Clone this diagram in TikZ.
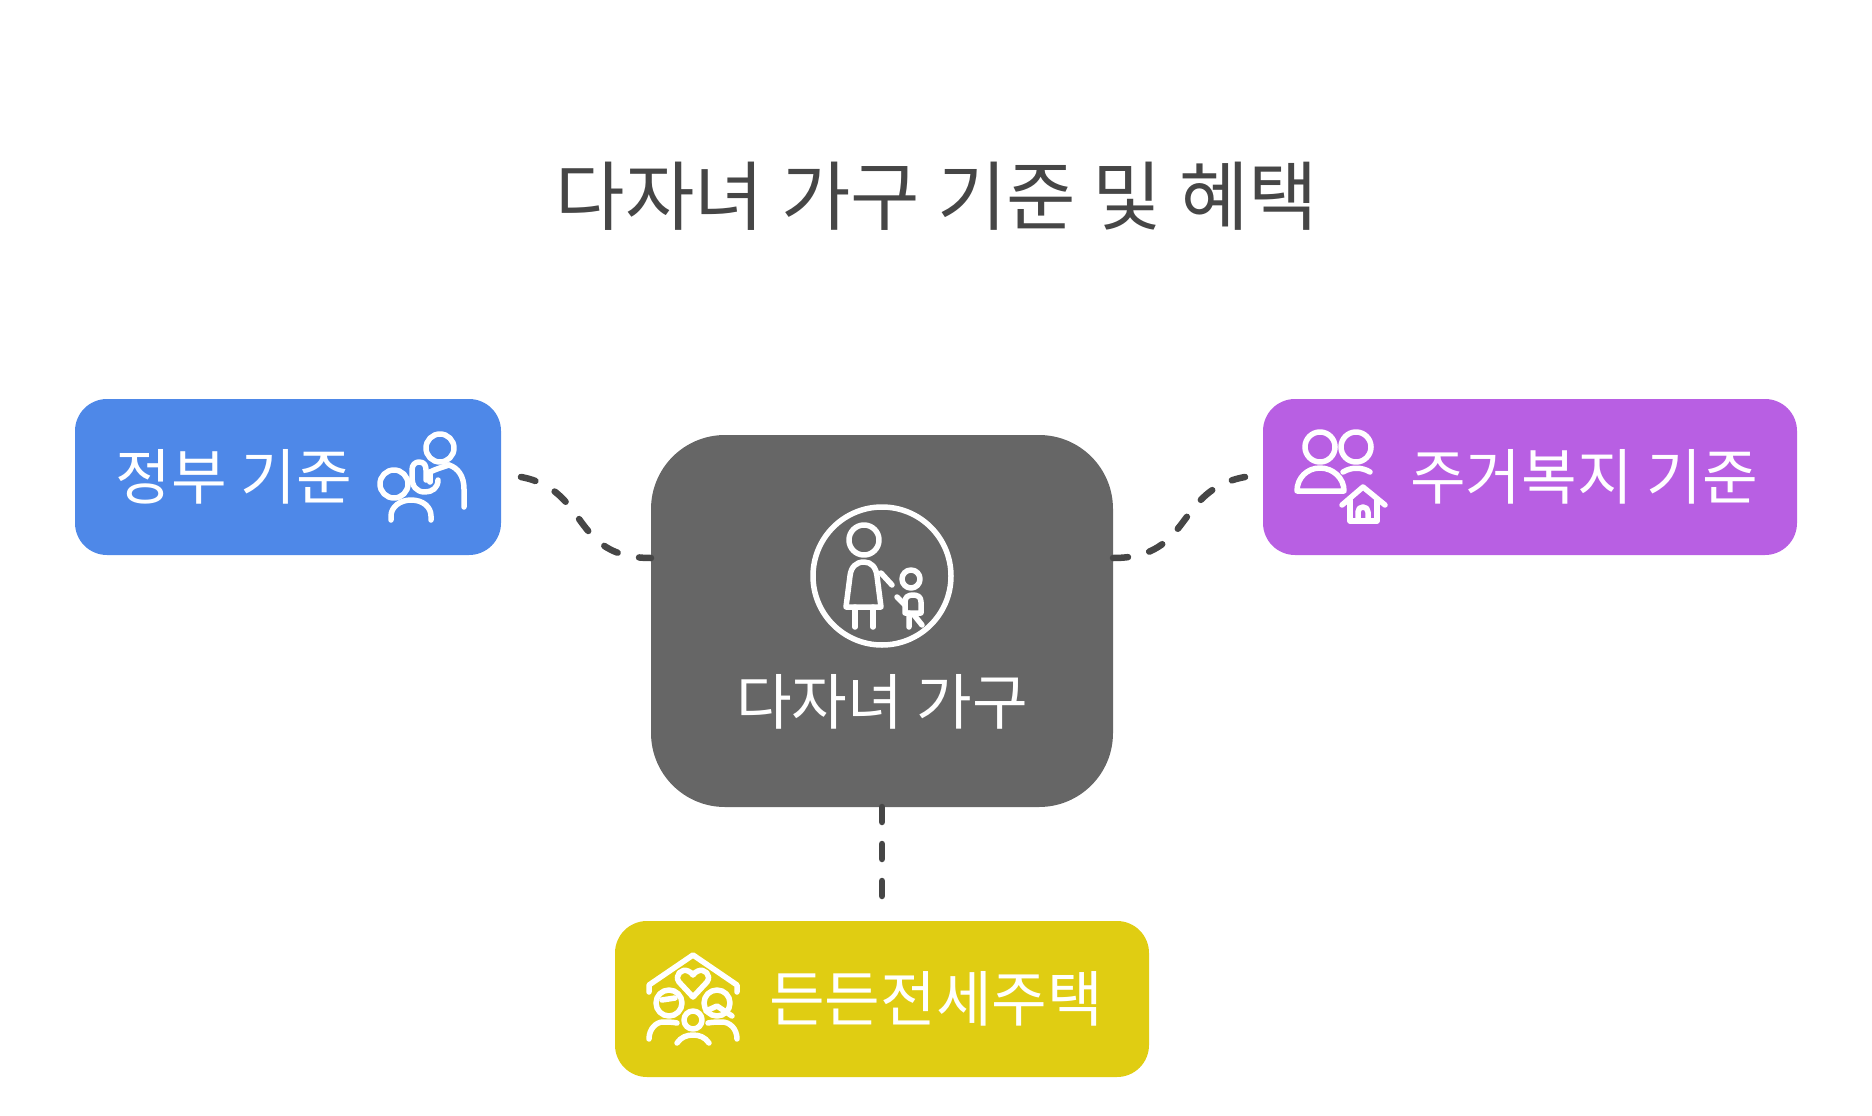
\documentclass[tikz,border=0pt]{standalone}
\usepackage{xcolor}
\usepackage{fontspec}
\usepackage{tikz}
\usetikzlibrary{positioning, calc}
\setmainfont{Noto Sans CJK KR}
\definecolor{myblue}{RGB}{78,136,232}
\definecolor{mygray}{RGB}{102,102,102}
\definecolor{mypurple}{RGB}{184,95,227}
\definecolor{myyellow}{RGB}{224,205,18}
\definecolor{mydark}{RGB}{70,70,70}
\tikzset{
  box/.style={rectangle, inner sep=0pt, outer sep=0pt, rounded corners=32pt,
    minimum width=#1, minimum height=156pt},
  boxtext/.style={text=white, inner sep=0pt, font=\fontsize{60.5}{64}\selectfont},
  titletext/.style={text=mydark, inner sep=0pt, font=\fontsize{75.5}{80}\selectfont},
  link/.style={color=mydark, line width=6.5pt, line cap=round, dash pattern=on 15pt off 22pt},
  icon/.style={draw=white, line width=5.5pt, line cap=round, line join=round}
}
\begin{document}
\begin{tikzpicture}[x=1pt, y=-1pt]
  \useasboundingbox (0,0) rectangle (1872,1116);
  \node[titletext] (title) at (937,196) {다자녀 가구 기준 및 혜택};
  % boxes
  \node[box=462pt, minimum height=372pt, rounded corners=74pt, fill=mygray] (hub) at (882,621) {};
  \node[box=426pt, fill=myblue] (gov) at (288,477) {};
  \node[box=534pt, fill=mypurple] (welfare) at (1530,477) {};
  \node[box=534pt, fill=myyellow] (house) at (882,999) {};
  \node[boxtext] (hubtext) at (882,702) {다자녀 가구};
  \node[boxtext] (govtext) at (234,477) {정부 기준};
  \node[boxtext] (welfaretext) at (1584,477) {주거복지 기준};
  \node[boxtext] (housetext) at (936,999) {든든전세주택};
  % connectors
  \coordinate (hubleft) at ($(hub.west)+(0,-63)$);
  \coordinate (hubright) at ($(hub.east)+(0,-63)$);
  \coordinate (govend) at ($(gov.east)+(20,0)$);
  \coordinate (welfareend) at ($(welfare.west)+(-18,0)$);
  \coordinate (houseend) at ($(house.north)+(0,-21)$);
  \draw[link] (govend) .. controls (590,490) and (570,558) .. (hubleft);
  \draw[link] (hubright) .. controls (1194,558) and (1174,490) .. (welfareend);
  \draw[link] (hub.south) -- (houseend);
  % mother and child
  \draw[icon] (882,576) circle (69);
  \draw[icon] (864,540) circle (15);
  \draw[icon] (846,607) -- (850,576) .. controls (851,567) and (856,562) .. (864,562)
    .. controls (871,562) and (876,567) .. (877,576) -- (881,607) -- cycle;
  \draw[icon] (855,607) -- (855,627) (873,607) -- (873,627);
  \draw[icon] (881,573) -- (892,585);
  \draw[icon] (911,579) circle (9);
  \draw[icon] (905,613) -- (905,602) .. controls (905,597) and (908,595) .. (913,595)
    .. controls (918,595) and (921,597) .. (921,602) -- (921,613) -- cycle;
  \draw[icon] (909,613) -- (909,627) (914,615) -- (922,625);
  \draw[icon] (897,597) -- (905,605);
  % government icon
  \draw[icon] (440,448) circle (14);
  \draw[icon] (449,465) .. controls (458,468) and (464,476) .. (464,489) -- (464,507);
  \draw[icon] (430,472) -- (430,482);
  \draw[icon] (438,480) .. controls (438,488) and (432,492) .. (425,492)
    .. controls (416,492) and (412,486) .. (412,477) -- (412,470)
    .. controls (412,465) and (415,462) .. (419,462)
    .. controls (424,462) and (426,465) .. (426,470) -- (426,480);
  \draw[icon] (430,472) .. controls (436,469) and (443,467) .. (449,465);
  \draw[icon] (394,484) circle (14);
  \draw[icon] (391,520) -- (391,516) .. controls (391,507) and (400,500) .. (411,500)
    .. controls (423,500) and (431,507) .. (431,516) -- (431,520);
  % welfare icon
  \draw[icon] (1320,447) circle (15);
  \draw[icon] (1297,491) .. controls (1297,478) and (1307,468) .. (1320,468)
    .. controls (1333,468) and (1344,478) .. (1344,491) -- cycle;
  \draw[icon] (1356,447) circle (15);
  \draw[icon] (1343,472) .. controls (1351,467) and (1362,467) .. (1370,472);
  \draw[icon] (1342,505) -- (1363,487) -- (1385,505);
  \draw[icon] (1350,500) -- (1350,521) -- (1377,521) -- (1377,500);
  \draw[icon] (1358,520) -- (1358,512) .. controls (1358,509) and (1360,507) .. (1363,507)
    .. controls (1366,507) and (1368,509) .. (1368,512) -- (1368,520);
  % family house icon
  \draw[icon] (649,992) -- (649,985) -- (693,955) -- (737,985) -- (737,992);
  \draw[icon] (693,997) -- (679,982) .. controls (674,975) and (682,968) .. (688,971)
    .. controls (690,972) and (692,973) .. (693,975)
    .. controls (694,973) and (696,972) .. (698,971)
    .. controls (704,968) and (712,975) .. (707,982) -- cycle;
  \draw[icon] (669,1003) circle (13);
  \draw[icon] (662,1000) -- (675,998);
  \draw[icon] (717,1003) circle (13);
  \draw[icon] (706,1011) -- (717,1006) -- (732,1016);
  \draw[icon] (693,1020) circle (9);
  \draw[icon] (649,1039) .. controls (649,1029) and (656,1022) .. (663,1022)
    .. controls (668,1022) and (672,1022) .. (677,1023);
  \draw[icon] (737,1039) .. controls (737,1029) and (730,1022) .. (722,1022)
    .. controls (717,1022) and (713,1022) .. (708,1023);
  \draw[icon] (677,1043) .. controls (681,1037) and (687,1035) .. (693,1035)
    .. controls (699,1035) and (705,1037) .. (709,1043);
\end{tikzpicture}
\end{document}
